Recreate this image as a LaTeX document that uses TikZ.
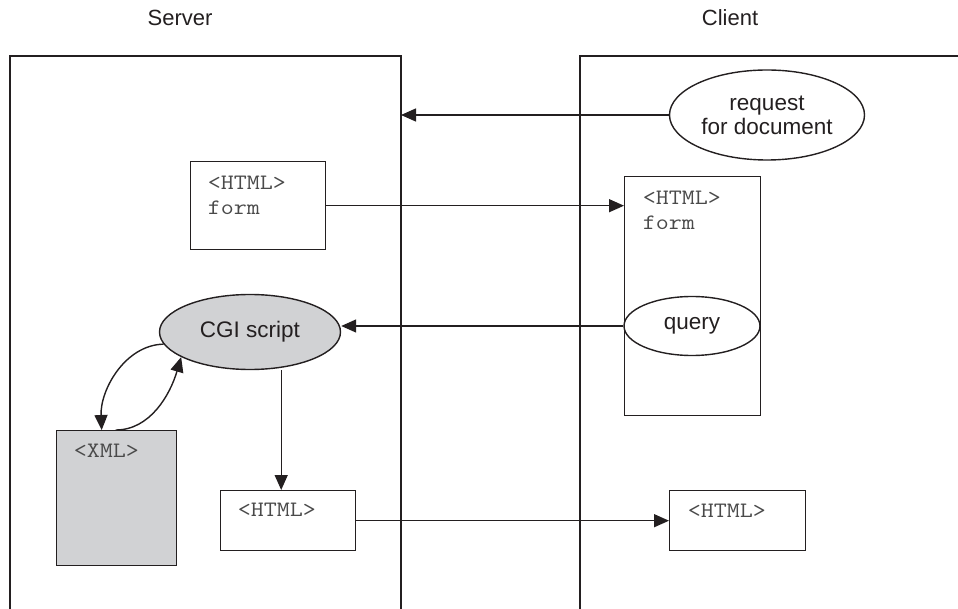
\documentclass[tikz,border=0pt]{standalone}
\usepackage{fontspec}
\setmainfont{Liberation Sans}
\usetikzlibrary{arrows.meta,shapes.geometric}
\definecolor{ink}{HTML}{231F20}
\definecolor{shade}{HTML}{D1D2D4}
\definecolor{codeink}{HTML}{4A4A4A}
\begin{document}
\begin{tikzpicture}[x=1pt,y=-1pt,line width=1.4pt,draw=ink,
  every node/.style={text=ink},
  txt/.style={font=\fontsize{22}{25}\selectfont,align=center,inner sep=0},
  code/.style={font=\fontsize{22}{25}\ttfamily,text=codeink,anchor=north west,align=left,inner sep=0,xscale=1.15,transform shape},
  doc/.style={draw,rectangle,anchor=north west,inner sep=0},
  bubble/.style={draw,ellipse,inner sep=0,font=\fontsize{22.5}{24}\selectfont,align=center},
  arr/.style={-{Triangle[length=15pt,width=13pt]}}]
\useasboundingbox (0,0) rectangle (958,609);

% column titles
\node[txt] (srvtitle) at (180,18) {Server};
\node[txt] (clititle) at (730,18) {Client};

% server and client areas (open at the bottom)
\draw (10,609) |- (401,56) -- (401,609);
\draw (958,56) -| (580,609);
\coordinate (srvedge) at (401,56);

% client side
\node[bubble,minimum width=195pt,minimum height=90pt] (req) at (767,115) {request\\for document};
\node[doc,minimum width=136pt,minimum height=239pt] (cform) at (624,176) {};
\node[code] (cformtxt) at (642,190) {<HTML>\\form};
\node[bubble,minimum width=136pt,minimum height=59pt] (query) at (692,326) {query};
\node[doc,minimum width=136pt,minimum height=60pt] (chtml) at (669,490) {};
\node[code] (chtmltxt) at (687,503) {<HTML>};

% server side
\node[doc,minimum width=135pt,minimum height=88pt] (sform) at (190,161) {};
\node[code] (sformtxt) at (207,175) {<HTML>\\form};
\node[bubble,fill=shade,minimum width=181pt,minimum height=75pt] (cgi) at (250,332) {CGI script};
\node[doc,fill=shade,minimum width=120pt,minimum height=135pt] (xml) at (56,430) {};
\node[code] (xmltxt) at (73,443) {<XML>};
\node[doc,minimum width=135pt,minimum height=60pt] (shtml) at (220,490) {};
\node[code] (shtmltxt) at (237,502) {<HTML>};

% message flow
\draw[arr] (req.west) -- (req.west -| srvedge);
\draw[arr] (sform.east) -- (cform.west |- sform.east);
\draw[arr] (query.west) -- (query.west -| cgi.east);
\draw[arr] ([xshift=-7pt]shtml.north |- cgi.south) -- ([xshift=-7pt]shtml.north);
\draw[arr] (shtml.east) -- (chtml.west |- shtml.east);

% script reads and writes the XML data
\draw[arr] (cgi.188) .. controls (125,345) and (100,390) .. ([xshift=-15pt]xml.north);
\draw[arr] ([xshift=-1pt]xml.north) .. controls (150,430) and (170,395) .. (cgi.200);
\end{tikzpicture}
\end{document}
